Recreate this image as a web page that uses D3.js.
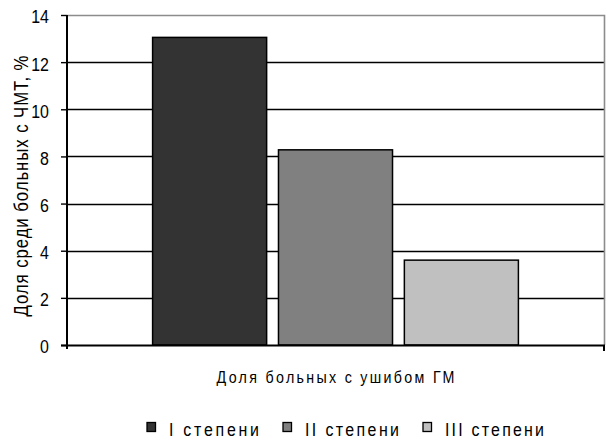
<!DOCTYPE html>
<html>
<head>
<meta charset="utf-8">
<script src="https://cdn.jsdelivr.net/npm/d3@7"></script>
<style>
  body { margin: 0; background: #fff; }
  svg { display: block; }
  text { font-family: 'Liberation Sans', Arial, sans-serif; fill: #000; }
</style>
</head>
<body>
<div class="chart"></div>
<script>
// data
var category = 'Доля больных с ушибом ГМ'
var series = ['I степени', 'II степени', 'III степени']
var values = [13.05, 8.28, 3.6]
var colors = ['#333333', '#808080', '#c0c0c0']
var yTicks = [0, 2, 4, 6, 8, 10, 12, 14]
var yTitle = 'Доля среди больных с ЧМТ, %'

var width = 606
var height = 440
var plot = { left: 67, right: 604, top: 15, bottom: 345 }
var narrow = 0.84 // squeeze regular sans into a narrow look

var svg = d3.select('.chart').append('svg')
  .attr('width', width)
  .attr('height', height)

// draws condensed text; len = wanted width on screen
function narrowText(parent, x, y, rot, anchor, size, str, len) {
  var g = parent.append('g')
    .attr('transform', 'translate(' + x + ',' + y + ') rotate(' + rot + ') scale(' + narrow + ',1)')
  var t = g.append('text')
    .attr('text-anchor', anchor)
    .style('font-size', size + 'px')
    .text(str)
  if (len) t.attr('textLength', len / narrow).attr('lengthAdjust', 'spacing')
  return t
}

var y = d3.scaleLinear()
  .domain([0, 14])
  .range([plot.bottom, plot.top])

var x0 = d3.scaleBand()
  .domain([category])
  .range([plot.left, plot.right])
  .paddingOuter(0.234)

var x1 = d3.scaleBand()
  .domain(series)
  .range([0, x0.bandwidth()])
  .paddingInner(0.094)

// gridlines
svg.append('g')
  .selectAll('line')
  .data(yTicks.filter(d => d > 0 && d < 14))
  .enter().append('line')
  .attr('x1', plot.left)
  .attr('x2', plot.right)
  .attr('y1', d => Math.round(y(d)) + 0.5)
  .attr('y2', d => Math.round(y(d)) + 0.5)
  .attr('stroke', '#000')
  .attr('stroke-width', 1.4)

// plot area border (top, right) in gray
svg.append('path')
  .attr('d', 'M' + plot.left + ',' + (plot.top + 0.5) + 'H' + (plot.right + 0.5) + 'V' + plot.bottom)
  .attr('fill', 'none')
  .attr('stroke', '#8c8c8c')
  .attr('stroke-width', 1.6)

// bars
svg.append('g')
  .selectAll('rect')
  .data(series)
  .enter().append('rect')
  .attr('x', d => x0(category) + x1(d))
  .attr('y', (d, i) => y(values[i]))
  .attr('width', x1.bandwidth())
  .attr('height', (d, i) => y(0) - y(values[i]))
  .attr('fill', (d, i) => colors[i])
  .attr('stroke', '#000')
  .attr('stroke-width', 1.5)

// y axis
var yAxis = svg.append('g')
  .attr('transform', 'translate(' + plot.left + ',0)')
  .call(d3.axisLeft(y).tickValues(yTicks).tickSize(6).tickFormat(d3.format('d')))
yAxis.select('.domain').remove()
yAxis.selectAll('line').attr('stroke', '#000').attr('stroke-width', 1.4)
yAxis.selectAll('text')
  .attr('x', -18 / narrow)
  .attr('dy', '0.42em')
  .attr('transform', 'scale(' + narrow + ',1)')
  .style('font-size', '19px')
yAxis.append('line')
  .attr('x1', 0).attr('x2', 0)
  .attr('y1', plot.top).attr('y2', plot.bottom + 4)
  .attr('stroke', '#000')
  .attr('stroke-width', 2)

// x axis
svg.append('line')
  .attr('x1', plot.left - 6).attr('x2', plot.right + 1)
  .attr('y1', plot.bottom + 0.5).attr('y2', plot.bottom + 0.5)
  .attr('stroke', '#000')
  .attr('stroke-width', 2)
svg.append('line')
  .attr('x1', plot.right).attr('x2', plot.right)
  .attr('y1', plot.bottom).attr('y2', plot.bottom + 6)
  .attr('stroke', '#000')
  .attr('stroke-width', 2)

narrowText(svg, x0(category) + x0.bandwidth() / 2, 383, 0, 'middle', 17, category, 238)

// y title
narrowText(svg, 28, 186, -90, 'middle', 20, yTitle, 261)

// legend
var legendX = [147, 283, 423]
var legendLen = [90, 94, 99]
var legend = svg.append('g')
series.forEach((d, i) => {
  legend.append('rect')
    .attr('x', legendX[i])
    .attr('y', 422.5)
    .attr('width', 8.5)
    .attr('height', 9)
    .attr('fill', colors[i])
    .attr('stroke', '#000')
    .attr('stroke-width', 1.3)
  narrowText(legend, legendX[i] + 22, 436, 0, 'start', 19, d, legendLen[i])
})
</script>
</body>
</html>
